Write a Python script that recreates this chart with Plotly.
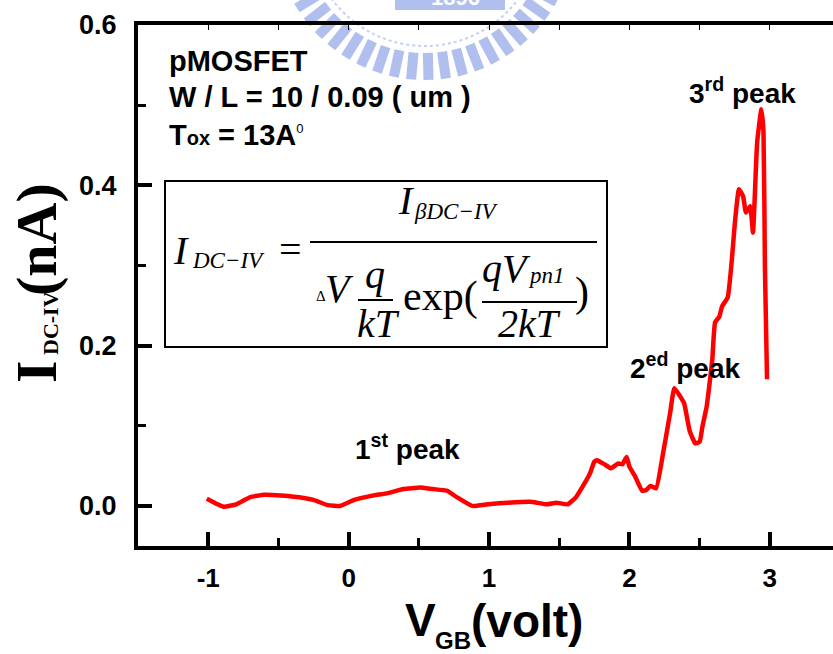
import math
import plotly.graph_objects as go

# Gate-to-body voltage (V) and extracted DC-IV current (nA)
vgb = [-1.01, -0.89, -0.80, -0.70, -0.60, -0.48, -0.32, -0.25, -0.15, -0.06,
       0.04, 0.16, 0.28, 0.39, 0.51, 0.60, 0.70, 0.77, 0.88, 0.99,
       1.13, 1.31, 1.41, 1.48, 1.56, 1.62, 1.68, 1.72, 1.75, 1.77,
       1.83, 1.87, 1.92, 1.95, 1.98, 2.00, 2.04, 2.09, 2.12, 2.15,
       2.19, 2.24, 2.29, 2.32, 2.36, 2.39, 2.43, 2.47, 2.50, 2.52,
       2.55, 2.59, 2.61, 2.64, 2.66, 2.70, 2.73, 2.75, 2.78, 2.81,
       2.83, 2.86, 2.88, 2.89, 2.91, 2.94, 2.955, 2.965, 2.98]
idc = [0.009, -0.001, 0.002, 0.011, 0.014, 0.013, 0.010, 0.0075, 0.001, 0.0,
       0.0075, 0.0125, 0.016, 0.021, 0.023, 0.021, 0.019, 0.011, 0.0, 0.002,
       0.004, 0.005, 0.002, 0.004, 0.002, 0.011, 0.028, 0.041, 0.055, 0.057,
       0.051, 0.047, 0.053, 0.052, 0.061, 0.049, 0.037, 0.019, 0.020, 0.025,
       0.022, 0.066, 0.116, 0.147, 0.137, 0.128, 0.093, 0.078, 0.080, 0.099,
       0.124, 0.182, 0.229, 0.236, 0.249, 0.260, 0.308, 0.351, 0.395, 0.386,
       0.366, 0.374, 0.341, 0.374, 0.454, 0.495, 0.466, 0.299, 0.158]

x_tickvals = [-1, 0, 1, 2, 3]
x_ticktext = ["-1", "0", "1", "2", "3"]
y_tickvals = [0.0, 0.2, 0.4, 0.6]
y_ticktext = ["0.0", "0.2", "0.4", "0.6"]

W, H = 833, 654
L, R, T, B = 138, 833, 25, 546
SANS = "Liberation Sans"
SERIF = "Liberation Serif"


def px(x):
    return (x - L) / (R - L)


def py(y):
    return (B - y) / (B - T)


fig = go.Figure()
fig.add_trace(go.Scatter(
    x=vgb, y=idc, mode="lines",
    line=dict(color="#ff0000", width=4.5, shape="spline", smoothing=0.4),
    hoverinfo="skip", showlegend=False,
))
# empty trace so the top mirror axis gets drawn
fig.add_trace(go.Scatter(x=[None], y=[None], xaxis="x2", showlegend=False))

shapes = []

# faded emblem behind the top edge
cx, cy = 425, -70
tooth = "rgba(128,152,226,0.62)"
for k in range(54):
    a = math.radians(k * 360 / 54 + 2)
    r1, r2 = 123, 150
    shapes.append(dict(
        type="line", xref="paper", yref="paper", layer="below",
        x0=px(cx + r1 * math.cos(a)), y0=py(cy + r1 * math.sin(a)),
        x1=px(cx + r2 * math.cos(a)), y1=py(cy + r2 * math.sin(a)),
        line=dict(color=tooth, width=10),
    ))
shapes.append(dict(
    type="circle", xref="paper", yref="paper", layer="below",
    x0=px(cx - 116), x1=px(cx + 116), y0=py(cy - 116), y1=py(cy + 116),
    line=dict(color="rgba(150,170,230,0.55)", width=2, dash="dot"),
))
shapes.append(dict(
    type="rect", xref="paper", yref="paper", layer="below",
    x0=px(395), x1=px(505), y0=py(-20), y1=py(10),
    fillcolor=tooth, line=dict(width=0),
))

# formula frame
shapes.append(dict(
    type="rect", xref="paper", yref="paper",
    x0=px(165), x1=px(607), y0=py(181), y1=py(347),
    line=dict(color="black", width=2),
))
# fraction bars
for (xa, xb, yy) in [(310, 597, 242), (358, 393, 300), (482, 577, 302)]:
    shapes.append(dict(
        type="line", xref="paper", yref="paper",
        x0=px(xa), x1=px(xb), y0=py(yy), y1=py(yy),
        line=dict(color="black", width=2),
    ))

ann = []


def text(s, x, y, size, family=SANS, weight="bold", style="normal",
         xanchor="center", angle=0, color="black"):
    ann.append(dict(
        text=s, x=px(x), y=py(y), xref="paper", yref="paper",
        xanchor=xanchor, yanchor="middle", showarrow=False, textangle=angle,
        font=dict(family=family, size=size, color=color, weight=weight, style=style),
    ))


text("1896", 455, -3, 22, color="white")

# device description
text("pMOSFET", 167, 61, 29, xanchor="left")
text("W / L = 10 / 0.09 ( um )", 167, 97, 29, xanchor="left")
text("T<span style='font-size:20px'>ox</span> = 13A"
     "<sup><span style='font-size:13px;font-weight:normal'>0</span></sup>",
     167, 135, 29, xanchor="left")

# peak labels
text("1<sup>st</sup> peak", 407, 447, 28)
text("2<sup>ed</sup> peak", 685, 366, 28)
text("3<sup>rd</sup> peak", 742, 91, 28)

# formula
text("I", 181, 250, 40, SERIF, "normal", "italic")
text("DC\u2212IV", 228, 260, 23, SERIF, "normal", "italic")
text("=", 290, 249, 40, SERIF, "normal")
text("I", 406, 200, 40, SERIF, "normal", "italic")
text("\u03b2DC\u2212IV", 456, 211, 23, SERIF, "normal", "italic")
text("\u0394", 321, 296, 15, SERIF, "normal")
text("V", 339, 288, 40, SERIF, "normal", "italic")
text("q", 375, 274, 40, SERIF, "normal", "italic")
text("kT", 378, 324, 40, SERIF, "normal", "italic")
text("exp(", 440, 296, 42, SERIF, "normal")
text("qV", 506, 268, 40, SERIF, "normal", "italic")
text("pn1", 546, 275, 23, SERIF, "normal", "italic")
text("2kT", 529, 324, 40, SERIF, "normal", "italic")
text(")", 582, 292, 42, SERIF, "normal")

# axis titles
text("I", 36, 372, 58, SERIF, "bold", angle=-90)
text("DC-IV", 50, 323, 22, SERIF, "bold", angle=-90)
text("(nA)", 36, 240, 58, SERIF, "bold", angle=-90)
text("V", 420, 620, 46)
text("GB", 453, 640, 24)
text("(volt)", 527, 621, 46)

fig.update_layout(
    width=W, height=H,
    margin=dict(l=L, r=W - R, t=T, b=H - B, pad=0),
    paper_bgcolor="white", plot_bgcolor="rgba(0,0,0,0)",
    showlegend=False,
    shapes=shapes, annotations=ann,
    xaxis=dict(
        range=[-1.5, 3.45], showgrid=False, zeroline=False,
        showline=True, linecolor="black", linewidth=4,
        ticks="inside", ticklen=14, tickwidth=4, tickcolor="black",
        tickvals=x_tickvals, ticktext=x_ticktext,
        minor=dict(ticks="inside", ticklen=8, tickwidth=3, dtick=0.5, tick0=0,
                   tickcolor="black", showgrid=False),
        tickfont=dict(family=SANS, size=26, color="black", weight="bold"),
        ticklabelstandoff=6,
    ),
    xaxis2=dict(
        range=[-1.5, 3.45], overlaying="x", side="top", anchor="y",
        showgrid=False, zeroline=False, showline=True, linecolor="black",
        linewidth=4, ticks="inside", ticklen=5, tickwidth=1, tickcolor="black",
        dtick=0.5, tick0=0, showticklabels=False,
    ),
    yaxis=dict(
        range=[-0.05, 0.6], showgrid=False, zeroline=False,
        showline=True, linecolor="black", linewidth=4,
        ticks="inside", ticklen=14, tickwidth=4, tickcolor="black",
        tickvals=y_tickvals, ticktext=y_ticktext,
        minor=dict(ticks="inside", ticklen=8, tickwidth=3, dtick=0.1, tick0=0,
                   tickcolor="black", showgrid=False),
        tickfont=dict(family=SANS, size=27, color="black", weight="bold"),
        ticklabelstandoff=12,
    ),
)

fig.write_html("out.html")
